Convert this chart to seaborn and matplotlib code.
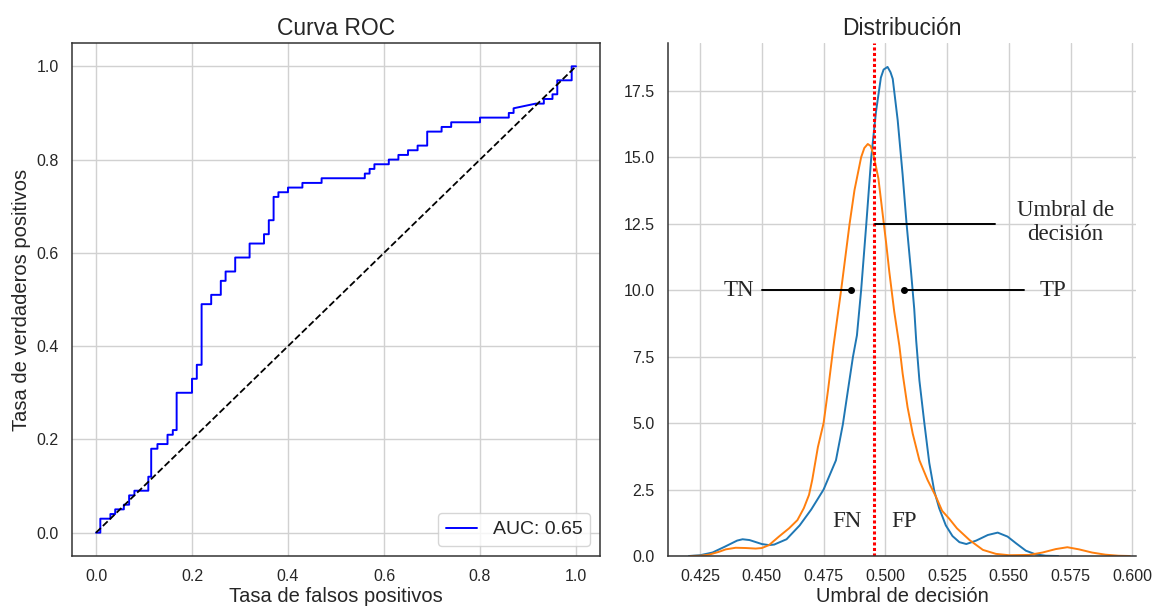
import matplotlib
matplotlib.use("Agg")
import matplotlib.pyplot as plt
import seaborn as sns
import pandas as pd

# ---------------- ROC data ----------------
fpr = [0.0, 0.009, 0.009, 0.03, 0.03, 0.04, 0.04, 0.058, 0.058, 0.069, 0.069, 0.08, 0.08,
       0.109, 0.109, 0.115, 0.115, 0.128, 0.128, 0.149, 0.149, 0.16, 0.16, 0.168, 0.168,
       0.20, 0.20, 0.21, 0.21, 0.22, 0.22, 0.24, 0.24, 0.26, 0.26, 0.27, 0.27, 0.29, 0.29,
       0.32, 0.32, 0.35, 0.35, 0.36, 0.36, 0.37, 0.37, 0.38, 0.38, 0.40, 0.40, 0.43, 0.43,
       0.47, 0.47, 0.56, 0.56, 0.57, 0.57, 0.58, 0.58, 0.61, 0.61, 0.63, 0.63, 0.65, 0.65,
       0.67, 0.67, 0.69, 0.69, 0.72, 0.72, 0.74, 0.74, 0.80, 0.80, 0.86, 0.86, 0.87, 0.87,
       0.916, 0.933, 0.933, 0.951, 0.951, 0.961, 0.961, 0.991, 0.991, 1.0]
tpr = [0.0, 0.0, 0.03, 0.03, 0.04, 0.04, 0.05, 0.05, 0.06, 0.06, 0.08, 0.08, 0.09,
       0.09, 0.12, 0.12, 0.18, 0.18, 0.19, 0.19, 0.21, 0.21, 0.22, 0.22, 0.30,
       0.30, 0.33, 0.33, 0.36, 0.36, 0.49, 0.49, 0.51, 0.51, 0.54, 0.54, 0.56, 0.56, 0.59,
       0.59, 0.62, 0.62, 0.64, 0.64, 0.67, 0.67, 0.72, 0.72, 0.73, 0.73, 0.74, 0.74, 0.75,
       0.75, 0.76, 0.76, 0.77, 0.77, 0.78, 0.78, 0.79, 0.79, 0.80, 0.80, 0.81, 0.81, 0.82,
       0.82, 0.83, 0.83, 0.86, 0.86, 0.87, 0.87, 0.88, 0.88, 0.89, 0.89, 0.90, 0.90, 0.91,
       0.92, 0.92, 0.93, 0.93, 0.94, 0.94, 0.97, 0.97, 1.0, 1.0]
chance_x = [0.0, 1.0]
chance_y = [0.0, 1.0]
auc_label = "AUC: 0.65"

# ---------------- density curves ----------------
blue_x = [0.4205, 0.425, 0.430, 0.435, 0.440, 0.4422, 0.445, 0.450, 0.4529, 0.455, 0.460,
          0.4653, 0.470, 0.475, 0.480, 0.4828, 0.4848, 0.4869, 0.4885, 0.4902, 0.4923,
          0.4943, 0.4962, 0.4982, 0.4993, 0.5009, 0.5021, 0.503, 0.505, 0.507, 0.5086, 0.5104,
          0.5117, 0.5125, 0.5138, 0.5158, 0.5178, 0.5198, 0.5218, 0.5245, 0.5272, 0.530,
          0.5328, 0.5368, 0.5415, 0.5455, 0.5495, 0.5529, 0.5569, 0.5609, 0.565, 0.570]
blue_y = [0.0, 0.03, 0.13, 0.35, 0.58, 0.63, 0.60, 0.45, 0.41, 0.43, 0.63,
          1.15, 1.75, 2.5, 3.6, 4.95, 6.2, 7.5, 8.3, 10.0, 12.5,
          15.0, 16.7, 18.0, 18.3, 18.4, 18.2, 17.95, 16.4, 14.35, 12.5, 10.7,
          9.3, 8.1, 6.6, 5.0, 3.5, 2.45, 1.8, 1.15, 0.75, 0.52,
          0.45, 0.58, 0.79, 0.88, 0.73, 0.48, 0.2, 0.06, 0.01, 0.0]
orange_x = [0.421, 0.425, 0.4286, 0.4327, 0.4354, 0.4394, 0.4435, 0.4475, 0.450, 0.4529,
            0.4569, 0.461, 0.4644, 0.467, 0.4691, 0.4704, 0.4727, 0.475, 0.4768, 0.4790,
            0.4821, 0.4855, 0.4875, 0.4902, 0.4915, 0.4929, 0.4941, 0.4952, 0.4972, 0.5003,
            0.5016, 0.5036, 0.5057, 0.507, 0.509, 0.5111, 0.5138, 0.5171, 0.5205, 0.5230,
            0.5259, 0.5290, 0.5341, 0.5395, 0.5448, 0.550, 0.5582, 0.5636, 0.569, 0.5737,
            0.5784, 0.5837, 0.5891, 0.5944, 0.599]
orange_y = [0.0, 0.01, 0.05, 0.16, 0.25, 0.31, 0.30, 0.28, 0.30, 0.41,
            0.73, 1.04, 1.35, 1.8, 2.3, 2.86, 4.1, 5.0, 6.24, 7.9,
            10.0, 12.48, 13.76, 15.0, 15.35, 15.5, 15.42, 15.1, 14.2, 11.8,
            10.7, 9.2, 7.9, 6.87, 5.6, 4.6, 3.6, 2.86, 2.23, 1.7,
            1.4, 1.04, 0.6, 0.23, 0.08, 0.03, 0.04, 0.13, 0.26, 0.33,
            0.25, 0.13, 0.05, 0.01, 0.0]
threshold = 0.4954
x_ticks = [0.425, 0.450, 0.475, 0.500, 0.525, 0.550, 0.575, 0.600]
y_ticks = [0.0, 2.5, 5.0, 7.5, 10.0, 12.5, 15.0, 17.5]

# ---------------- style ----------------
sns.set_theme(style="whitegrid", rc={"axes.edgecolor": ".2", "grid.color": ".82",
                                     "axes.linewidth": 1.1})
plt.rcParams['font.family'] = ['Liberation Sans', 'DejaVu Sans']

fig = plt.figure(figsize=(11.58, 6.06), dpi=100)
ax1 = fig.add_axes([72/1158, 1-556/606, 528/1158, 513/606])
ax2 = fig.add_axes([668/1158, 1-556/606, 468/1158, 513/606])

# ---------------- ROC ----------------
sns.lineplot(x=fpr, y=tpr, sort=False, estimator=None, color="blue", lw=1.4,
             label=auc_label, ax=ax1)
sns.lineplot(x=chance_x, y=chance_y, sort=False, estimator=None, color="black",
             lw=1.3, linestyle="--", ax=ax1)
ax1.set_xlim(-0.05, 1.05)
ax1.set_ylim(-0.05, 1.05)
ax1.set_xticks([0.0, 0.2, 0.4, 0.6, 0.8, 1.0])
ax1.set_yticks([0.0, 0.2, 0.4, 0.6, 0.8, 1.0])
ax1.tick_params(labelsize=11.5)
ax1.set_title("Curva ROC", fontsize=16.5)
ax1.set_xlabel("Tasa de falsos positivos", fontsize=14.5, labelpad=2)
ax1.set_ylabel("Tasa de verdaderos positivos", fontsize=14.5)
ax1.legend(loc="lower right", fontsize=14, handlelength=1.6)

# ---------------- Distribution ----------------
df_b = pd.DataFrame({"x": blue_x, "y": blue_y})
df_o = pd.DataFrame({"x": orange_x, "y": orange_y})
sns.lineplot(data=df_b, x="x", y="y", color="#1f77b4", lw=1.4, ax=ax2)
sns.lineplot(data=df_o, x="x", y="y", color="#ff7f0e", lw=1.4, ax=ax2)
ax2.axvline(threshold, color="red", linestyle=(0, (1, 0.8)), lw=2.2)
ax2.set_xlim(0.412, 0.6015)
ax2.set_ylim(0, 19.3)
ax2.set_xticks(x_ticks)
ax2.set_yticks(y_ticks)
ax2.set_xticklabels([f"{v:.3f}" for v in x_ticks])
ax2.set_yticklabels([f"{v:.1f}" for v in y_ticks])
ax2.tick_params(labelsize=11.5)
ax2.set_title("Distribución", fontsize=16.5)
ax2.set_xlabel("Umbral de decisión", fontsize=14.5, labelpad=2)
ax2.set_ylabel("")
sns.despine(ax=ax2)

serif = ["Liberation Serif", "DejaVu Serif"]
ax2.plot([0.4502, 0.4861], [10.0, 10.0], color="black", lw=1.4)
ax2.plot([0.4861], [10.0], "o", color="black", ms=4)
ax2.plot([0.5076, 0.5562], [10.0, 10.0], color="black", lw=1.4)
ax2.plot([0.5076], [10.0], "o", color="black", ms=4)
ax2.plot([0.4960, 0.5445], [12.5, 12.5], color="black", lw=1.4)
ax2.text(0.4409, 10.0, "TN", family=serif, fontsize=16.5, ha="center", va="center")
ax2.text(0.5680, 10.0, "TP", family=serif, fontsize=16.5, ha="center", va="center")
ax2.text(0.5728, 12.55, "Umbral de\ndecisión", family=serif, fontsize=16.5,
         ha="center", va="center", multialignment="center")
ax2.text(0.4846, 1.3, "FN", family=serif, fontsize=16.5, ha="center", va="center")
ax2.text(0.5074, 1.3, "FP", family=serif, fontsize=16.5, ha="center", va="center")

fig.savefig("out.png", dpi=100)
